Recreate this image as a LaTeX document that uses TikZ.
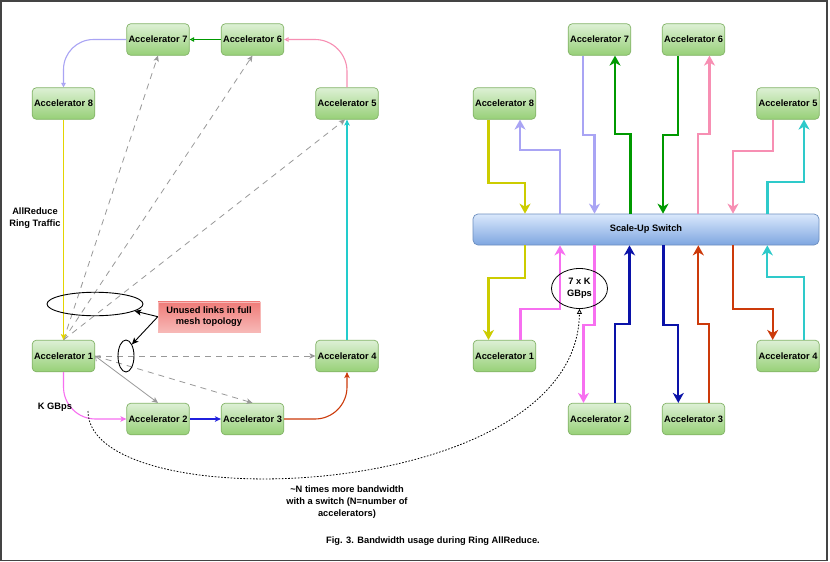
\documentclass[tikz,border=0pt]{standalone}
\usepackage{fontspec}
\setmainfont{Liberation Sans}
\usetikzlibrary{arrows.meta,shapes.geometric}
\definecolor{accT}{HTML}{DDF0D5}
\definecolor{accB}{HTML}{97D077}
\definecolor{accD}{HTML}{82B366}
\definecolor{swT}{HTML}{DAE8FC}
\definecolor{swB}{HTML}{7EA6E0}
\definecolor{swD}{HTML}{6C8EBF}
\definecolor{redT}{HTML}{EF7B78}
\definecolor{redB}{HTML}{F7B8B6}
\definecolor{cYel}{HTML}{CCCC00}
\definecolor{cYelL}{HTML}{E3D400}
\definecolor{cLav}{HTML}{A9A4F4}
\definecolor{cGrn}{HTML}{009900}
\definecolor{cPnk}{HTML}{F78FB3}
\definecolor{cCyn}{HTML}{2ECACA}
\definecolor{cCynL}{HTML}{22CCCC}
\definecolor{cMag}{HTML}{F76FF0}
\definecolor{cBlu}{HTML}{0A12A8}
\definecolor{cBluL}{HTML}{2020DD}
\definecolor{cOrg}{HTML}{CC3A0A}
\definecolor{cGry}{HTML}{999999}
\definecolor{frameC}{HTML}{444444}
\tikzset{
  acc/.style={draw=accD, line width=0.7pt, rounded corners=4pt, top color=accT, bottom color=accB,
    minimum width=62.5pt, minimum height=31.5pt, inner sep=0pt,
    font=\bfseries\fontsize{9.3}{11}\selectfont},
  switchbox/.style={draw=swD, line width=0.7pt, rounded corners=5pt, top color=swT, bottom color=swB,
    minimum width=346pt, minimum height=31pt, inner sep=0pt,
    font=\bfseries\fontsize{9.3}{11}\selectfont},
  redbox/.style={top color=redT, bottom color=redB, draw=redB, line width=0.4pt,
    minimum width=102pt, minimum height=30pt, inner sep=0pt, align=center,
    font=\bfseries\fontsize{9.3}{11.8}\selectfont},
  lbl/.style={align=center, inner sep=0pt, font=\bfseries\fontsize{9.3}{11.6}\selectfont},
  thinln/.style={line width=1.1pt},
  openhead/.style={-{Triangle[open,length=4.5pt,width=4.5pt]}},
  fillhead/.style={-{Stealth[length=6pt,width=5.5pt,inset=1.5pt]}},
  gdash/.style={cGry, line width=0.8pt, dash pattern=on 6pt off 5pt, fillhead},
  thick2/.style={line width=2.2pt, -{Stealth[length=10pt,width=11pt,inset=3pt]}},
  blk/.style={black, line width=0.9pt, -{Stealth[length=6.5pt,width=6pt,inset=1.5pt]}},
  dotln/.style={black, line width=0.8pt, dash pattern=on 1.6pt off 1.6pt, -{Triangle[open,length=5pt,width=5pt]}}
}
\begin{document}
\begin{tikzpicture}[x=1pt,y=-1pt]
\useasboundingbox (0,0) rectangle (830,562);
\fill[white] (0,0) rectangle (830,562);
\draw[frameC, line width=1.6pt] (0.8,0.8) rectangle (827.2,560.5);

% ---------- left panel ----------
\node[acc] (l7) at (158,39.5) {Accelerator 7};
\node[acc] (l6) at (252.5,39.5) {Accelerator 6};
\node[acc] (l8) at (63.5,103.5) {Accelerator 8};
\node[acc] (l5) at (347,103.5) {Accelerator 5};
\node[acc] (l1) at (63.5,356) {Accelerator 1};
\node[acc] (l4) at (347,356) {Accelerator 4};
\node[acc] (l2) at (158,419) {Accelerator 2};
\node[acc] (l3) at (252.5,419) {Accelerator 3};

% ring
\draw[cLav, thinln, openhead, rounded corners=30pt] (l7.west) -| (l8.north);
\draw[cGrn, thinln, openhead] (l6.west) -- (l7.east);
\draw[cPnk, thinln, openhead, rounded corners=32pt] (l5.north) |- (l6.east);
\draw[cMag, thinln, fillhead, rounded corners=32pt] (l1.south) |- (l2.west);
\draw[cBluL, thinln, fillhead] (l2.east) -- (l3.west);
\draw[cOrg, thinln, fillhead, rounded corners=32pt] (l3.east) -| (l4.south);
\draw[cCynL, thinln, fillhead] (l4.north) -- (l5.south);

% gray mesh links
\draw[gdash] (l1.north) -- (l7.south);
\draw[gdash] (l1.north) -- (l6.south);
\draw[gdash] (l1.north) -- ([xshift=-2pt]l5.south);
\draw[gdash] (l1.east) -- (l4.west);
\draw[gdash] (l1.east) -- (l3.north);
\draw[cGry, line width=0.8pt, {Straight Barb[length=3.5pt,width=7pt]}-{Stealth[length=6pt,width=5.5pt,inset=1.5pt]}] (l1.east) -- (l2.north);

\draw[cYelL, line width=1.2pt, fillhead] (l8.south) -- (l1.north);

% annotations
\node[draw, ellipse, line width=0.9pt, minimum width=96pt, minimum height=23.5pt, inner sep=0pt] (e1) at (95,304) {};
\node[draw, ellipse, line width=0.9pt, minimum width=16pt, minimum height=32pt, inner sep=0pt] (e2) at (126,356) {};
\node[redbox] (ub) at (209,316.7) {Unused links in full\\mesh topology};
\draw[blk] (ub.west) -- (e1.-10);
\draw[blk] (ub.west) -- (e2.63);

\node[lbl] (t1) at (35,218) {AllReduce\\Ring Traffic};
\node[lbl] (t2) at (55,407) {K GBps};

% ---------- right panel ----------
\node[acc] (r7) at (599.5,39.5) {Accelerator 7};
\node[acc] (r6) at (693.5,39.5) {Accelerator 6};
\node[acc] (r8) at (504.5,103.5) {Accelerator 8};
\node[acc] (r5) at (788,103.5) {Accelerator 5};
\node[switchbox] (sw) at (646,229.5) {Scale-Up Switch};
\node[acc] (r1) at (504.5,356) {Accelerator 1};
\node[acc] (r4) at (788,356) {Accelerator 4};
\node[acc] (r2) at (599.5,419) {Accelerator 2};
\node[acc] (r3) at (693.5,419) {Accelerator 3};

% upper links
\draw[cYel, thick2] ([xshift=-16pt]r8.south) -- ++(0,63) -| ([xshift=-121pt]sw.north);
\draw[cLav, thick2] ([xshift=-86pt]sw.north) -- ++(0,-63.3) -| ([xshift=15.5pt]r8.south);
\draw[cLav, thick2] ([xshift=-16.5pt]r7.south) -- ++(0,79.7) -| ([xshift=-51.5pt]sw.north);
\draw[cGrn, thick2] ([xshift=-15.5pt]sw.north) -- ++(0,-79.3) -| ([xshift=15.5pt]r7.south);
\draw[cGrn, thick2] ([xshift=-15.5pt]r6.south) -- ++(0,79.7) -| ([xshift=17pt]sw.north);
\draw[cPnk, thick2] ([xshift=52pt]sw.north) -- ++(0,-79.3) -| ([xshift=16pt]r6.south);
\draw[cPnk, thick2] ([xshift=-15pt]r5.south) -- ++(0,31.7) -| ([xshift=87pt]sw.north);
\draw[cCyn, thick2] ([xshift=121.5pt]sw.north) -- ++(0,-32) -| ([xshift=16pt]r5.south);

% lower links
\draw[cYel, thick2] ([xshift=-121pt]sw.south) -- ++(0,33) -| ([xshift=-16pt]r1.north);
\draw[cMag, thick2] ([xshift=16pt]r1.north) -- ++(0,-31.3) -| ([xshift=-86pt]sw.south);
\draw[cMag, thick2] ([xshift=-51.5pt]sw.south) -- ++(0,79.3) -| ([xshift=-16pt]r2.north);
\draw[cBlu, thick2] ([xshift=15.5pt]r2.north) -- ++(0,-78.7) -| ([xshift=-16.5pt]sw.south);
\draw[cBlu, thick2] ([xshift=17.5pt]sw.south) -- ++(0,79.3) -| ([xshift=-15.2pt]r3.north);
\draw[cOrg, thick2] ([xshift=15.8pt]r3.north) -- ++(0,-78.7) -| ([xshift=52.3pt]sw.south);
\draw[cOrg, thick2] ([xshift=87.3pt]sw.south) -- ++(0,63.3) -| ([xshift=-15.3pt]r4.north);
\draw[cCyn, thick2] ([xshift=16pt]r4.north) -- ++(0,-62.7) -| ([xshift=121.3pt]sw.south);

\node[draw, ellipse, line width=0.8pt, minimum width=56pt, minimum height=40pt, inner sep=0pt, lbl] (ek) at (579.5,288.5) {7 x K\\GBps};

% dotted bandwidth comparison
\coordinate (ks) at (88,411);
\draw[dotln] (ks) .. controls (88,520) and (577,505) .. (ek.south);
\node[lbl] (t3) at (347,502) {\textasciitilde N times more bandwidth\\with a switch (N=number of\\accelerators)};

\node[lbl] (cap) at (433,541) {Fig. 3. Bandwidth usage during Ring AllReduce.};
\end{tikzpicture}
\end{document}
